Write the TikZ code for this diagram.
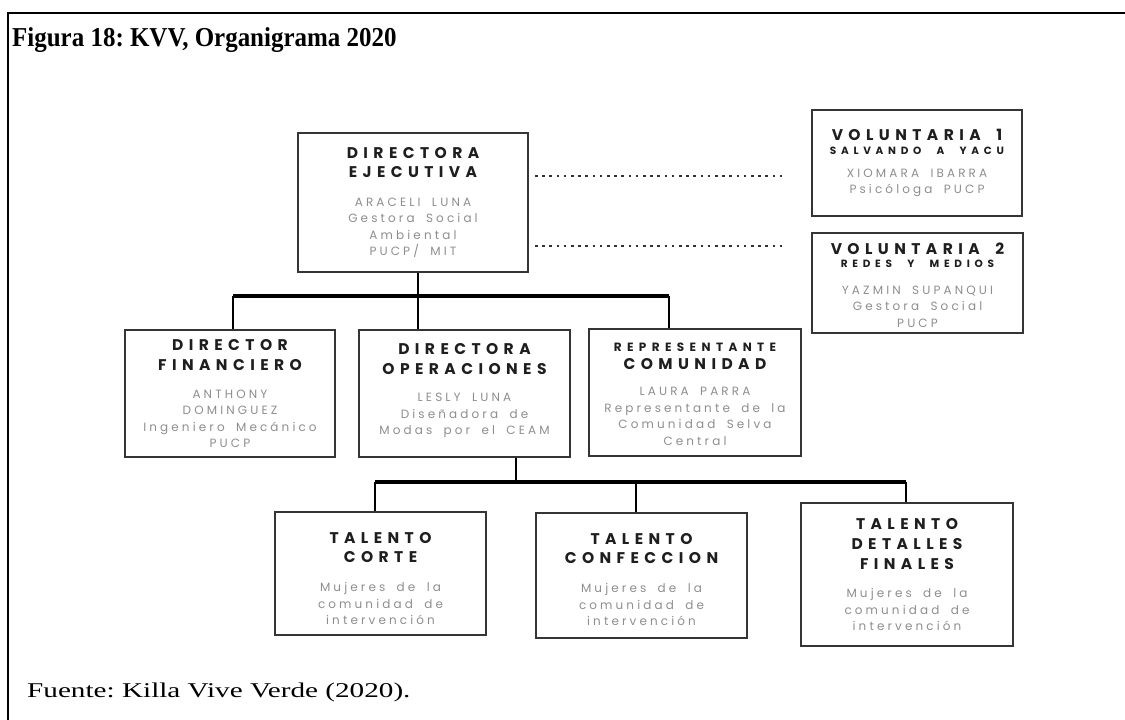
\documentclass[tikz,border=0pt]{standalone}
\usepackage{fontspec}
\setmainfont{Liberation Serif}
\newfontfamily\hf{Poppins}[LetterSpace=35,WordSpace=1.8]
\newfontfamily\hsf{Poppins}[LetterSpace=45,WordSpace=2.2]
\newfontfamily\bodyf{Poppins}[LetterSpace=26,WordSpace=1.8]
\definecolor{boxline}{HTML}{353535}
\definecolor{headc}{HTML}{1E1E1E}
\definecolor{bodyc}{HTML}{8E8E8E}
\newcommand\hd[1]{{\hf\bfseries\color{headc}\fontsize{15.5}{16.5}\selectfont #1}}
\newcommand\hs[2][10.5]{{\hsf\bfseries\color{headc}\fontsize{#1}{16.5}\selectfont #2}}
\newcommand\up[1]{\rule{0pt}{#1pt}}
\newcommand\dn[1]{\rule[-#1pt]{0pt}{#1pt}}
\tikzset{
  orgbox/.style={draw=boxline, line width=1.8pt, rectangle, inner sep=0pt, align=center,
    font=\bodyf\fontsize{12}{16.5}\selectfont, text=bodyc},
  conn/.style={line width=2.4pt, black},
  bar/.style={line width=3.8pt, black},
  dotl/.style={line width=2.6pt, black!80, dash pattern=on 2.6pt off 4.6pt},
  frame/.style={line width=1.8pt, black}
}
\begin{document}
\frenchspacing
\begin{tikzpicture}[x=1pt,y=-1pt]
\useasboundingbox (0,0) rectangle (1125,720);
\coordinate (ftl) at (8,13);
\coordinate (ftr) at (1125,13);
\coordinate (fbl) at (8,720);
\draw[frame] (ftr) -- (ftl) -- (fbl);
\node[anchor=base west, inner sep=0pt] (title) at (12,46)
  {\scalebox{0.96}[1.05]{\bfseries\fontsize{26}{30}\selectfont Figura 18: KVV, Organigrama 2020}};
\node[anchor=base west, inner sep=0pt] (src) at (27,697)
  {\scalebox{1.39}[1]{\fontsize{21}{24}\selectfont Fuente: Killa Vive Verde (2020).}};

\node[orgbox, minimum width=230pt, minimum height=139pt] (ej) at (413,202.5)
  {\up{8}\hd{DIRECTORA}\\[2.5pt]\hd{EJECUTIVA}\\[12pt]ARACELI LUNA\\Gestora Social\\Ambiental\\PUCP/ MIT};
\node[orgbox, minimum width=210pt, minimum height=106pt] (v1) at (917,163)
  {\hd{VOLUNTARIA 1}\\[-2pt]\hs{SALVANDO A YACU}\\[6pt]XIOMARA IBARRA\\Psicóloga PUCP};
\node[orgbox, minimum width=211pt, minimum height=100pt] (v2) at (917.5,283)
  {\up{16}\hd{VOLUNTARIA 2}\\[-3pt]\hs{REDES Y MEDIOS}\\[10pt]YAZMIN SUPANQUI\\Gestora Social\\PUCP};
\node[orgbox, minimum width=210pt, minimum height=127pt] (fin) at (230,393.5)
  {\up{12}\hd{DIRECTOR}\\[3.5pt]\hd{FINANCIERO}\\[11pt]ANTHONY\\DOMINGUEZ\\Ingeniero Mecánico\\PUCP};
\node[orgbox, minimum width=211pt, minimum height=127pt] (ope) at (464.5,393.5)
  {\hd{DIRECTORA}\\[3.5pt]\hd{OPERACIONES}\\[11pt]LESLY LUNA\\Diseñadora de\\Modas por el CEAM\dn{9}};
\node[orgbox, minimum width=212pt, minimum height=127pt] (rep) at (695,392.5)
  {\up{12}\hs[12]{REPRESENTANTE}\\[1pt]\hd{COMUNIDAD}\\[10pt]LAURA PARRA\\Representante de la\\Comunidad Selva\\Central};
\node[orgbox, minimum width=211pt, minimum height=123pt] (tc) at (380.5,573.5)
  {\up{21}\hd{TALENTO}\\[2.5pt]\hd{CORTE}\\[13pt]Mujeres de la\\comunidad de\\intervención};
\node[orgbox, minimum width=211pt, minimum height=125pt] (tf) at (641.5,575.5)
  {\up{19}\hd{TALENTO}\\[2.5pt]\hd{CONFECCION}\\[13pt]Mujeres de la\\comunidad de\\intervención};
\node[orgbox, minimum width=212pt, minimum height=143pt] (td) at (907,574.5)
  {\up{10}\hd{TALENTO}\\[3.5pt]\hd{DETALLES}\\[3.5pt]\hd{FINALES}\\[12pt]Mujeres de la\\comunidad de\\intervención};

% dotted links to volunteers
\coordinate (d1a) at (535,176); \coordinate (d1b) at (785,176);
\coordinate (d2a) at (535,246); \coordinate (d2b) at (785,246);
\draw[dotl] (d1a) -- (d1b);
\draw[dotl] (d2a) -- (d2b);

% upper tree
\coordinate (b1) at (233,296);
\coordinate (b2) at (418,296);
\coordinate (b3) at (669,296);
\draw[conn] (b2 |- ej.south) -- (b2);
\draw[bar] (b1) -- (b3);
\draw[conn] (b1) -- (b1 |- fin.north);
\draw[conn] (b2) -- (b2 |- ope.north);
\draw[conn] (b3) -- (b3 |- rep.north);

% lower tree
\coordinate (c0) at (516,482);
\coordinate (c1) at (375,482);
\coordinate (c2) at (636,482);
\coordinate (c3) at (906,482);
\draw[conn] (c0 |- ope.south) -- (c0);
\draw[bar] (c1) -- (c3);
\draw[conn] (c1) -- (c1 |- tc.north);
\draw[conn] (c2) -- (c2 |- tf.north);
\draw[conn] (c3) -- (c3 |- td.north);
\end{tikzpicture}
\end{document}
